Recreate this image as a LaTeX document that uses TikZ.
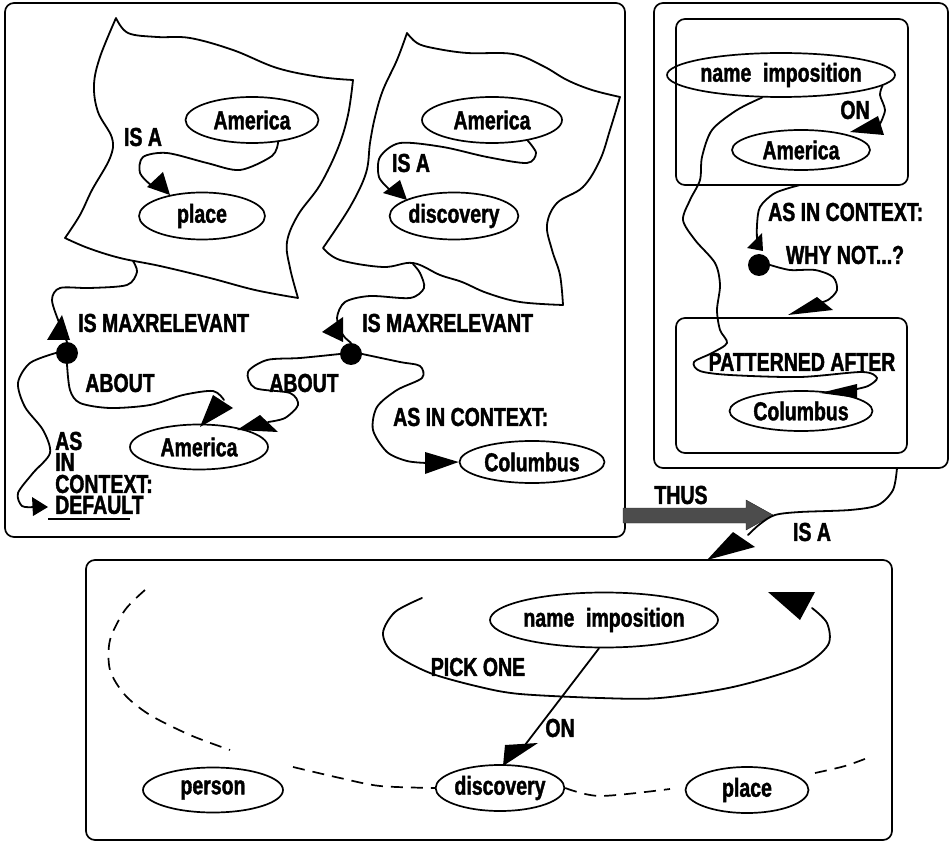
\documentclass[tikz,border=0pt]{standalone}
\usepackage{fontspec}
\setmainfont{Liberation Sans}[FakeStretch=0.75, BoldFeatures={FakeBold=1.5}]
\usepackage{graphicx}
\usetikzlibrary{shapes.geometric}
\begin{document}
\begin{tikzpicture}[x=1pt,y=-1pt,
  txt/.style={font=\fontsize{26}{26}\selectfont\bfseries, inner sep=0pt},
  ell/.style={draw, ellipse, line width=1.7pt, inner sep=0pt, font=\fontsize{26}{26}\selectfont\bfseries},
  wire/.style={line width=1.8pt, line join=round, line cap=round},
  frame/.style={draw, line width=1.7pt, rounded corners=9pt},
  dot/.style={circle, fill, inner sep=0pt, minimum size=22pt},
  head/.style={fill, line join=round},
  dashline/.style={line width=1.7pt, dash pattern=on 12pt off 8pt}
]
\useasboundingbox (0,0) rectangle (951,842);

% frames
\draw[frame] (5,3) rectangle (625,537);
\draw[frame] (654,3) rectangle (948,468);
\draw[frame] (676,19) rectangle (908,185);
\draw[frame] (676,318) rectangle (907,453);
\draw[frame] (86,560) rectangle (892,840);

% blob 1
\draw[wire] plot[smooth, tension=0.6] coordinates {(116,18)(128,33)(157,37)(190,38)(233,50)(277,68)(320,77)(353,80)}
  -- plot[smooth, tension=0.6] coordinates {(353,80)(348,115)(338,148)(320,185)(298,215)(287,242)(290,268)(298,298)}
  -- plot[smooth, tension=0.6] coordinates {(298,298)(255,290)(210,278)(160,266)(120,258)(88,248)(65,238)}
  -- plot[smooth, tension=0.6] coordinates {(65,238)(80,215)(92,190)(110,158)(112,138)(98,112)(94,85)(100,57)(116,18)} -- cycle;
% blob 2
\draw[wire] plot[smooth, tension=0.6] coordinates {(407,33)(417,43)(433,48)(467,53)(513,54)(543,66)(567,80)(592,90)(620,97)}
  -- plot[smooth, tension=0.6] coordinates {(620,97)(610,130)(600,160)(583,187)(557,203)(547,225)(552,250)(560,275)(563,305)}
  -- plot[smooth, tension=0.6] coordinates {(563,305)(520,302)(487,293)(462,282)(440,275)(413,263)(383,267)(340,260)(323,248)}
  -- plot[smooth, tension=0.6] coordinates {(323,248)(350,207)(366,173)(370,143)(375,117)(383,90)(397,60)(407,33)} -- cycle;

% nodes
\node[ell, minimum width=133pt, minimum height=46pt] (AmA) at (252,120) {America};
\node[ell, minimum width=126pt, minimum height=47pt] (place1) at (202,216) {place};
\node[ell, minimum width=140pt, minimum height=46pt] (AmB) at (492,120) {America};
\node[ell, minimum width=122pt, minimum height=47pt] (disc1) at (454,216) {discovery};
\node[ell, minimum width=138pt, minimum height=45pt] (AmC) at (199,447) {America};
\node[ell, minimum width=145pt, minimum height=42pt] (Col1) at (532,462) {Columbus};
\node[ell, minimum width=187pt, minimum height=44pt] (NI1) at (781,75) {name\hspace{0.45em}imposition};
\node[ell, minimum width=138pt, minimum height=40pt] (AmD) at (801,150) {America};
\node[ell, minimum width=143pt, minimum height=40pt] (Col2) at (801,411) {Columbus};
\node[ell, minimum width=185pt, minimum height=55pt] (NI2) at (604,620) {name\hspace{0.45em}imposition};
\node[ell, minimum width=124pt, minimum height=46pt] (disc2) at (500,788) {discovery};
\node[ell, minimum width=140pt, minimum height=45pt] (person) at (213,790) {person};
\node[ell, minimum width=123pt, minimum height=46pt] (place2) at (747,790) {place};

\node[dot] (D1) at (67,353) {};
\node[dot] (D2) at (351,354) {};
\node[dot] (D3) at (759,265) {};

% labels
\node[txt] (isa1) at (143,137) {IS A};
\node[txt] (isa2) at (411,163) {IS A};
\node[txt, anchor=west] (mr1) at (78,323) {IS MAXRELEVANT};
\node[txt, anchor=west] (mr2) at (362,323) {IS MAXRELEVANT};
\node[txt] (ab1) at (120,383) {ABOUT};
\node[txt] (ab2) at (304,383) {ABOUT};
\node[txt, anchor=west] (dfa) at (55,441) {AS};
\node[txt, anchor=west] (dfb) at (55,462) {IN};
\node[txt, anchor=west] (dfc) at (55,484) {CONTEXT:};
\node[txt, anchor=west] (dfd) at (55,505) {DEFAULT};
\node[txt, anchor=west] (aic1) at (393,417) {AS IN CONTEXT:};
\node[txt, anchor=west] (aic2) at (768,212) {AS IN CONTEXT:};
\node[txt] (why) at (845,255) {WHY NOT...?};
\node[txt] (on1) at (855,110) {ON};
\node[txt] (pat) at (802,362) {PATTERNED AFTER};
\node[txt] (thus) at (681,495) {THUS};
\node[txt] (isa3) at (812,532) {IS A};
\node[txt] (pick) at (478,667) {PICK ONE};
\node[txt] (on2) at (560,728) {ON};

\draw[line width=1.7pt] (48,519) -- (130,519);

% connectors
\draw[wire] plot[smooth] coordinates {(AmA.-40)(272,156)(240,170)(207,163)(167,153)(143,157)(140,173)(152,186)(160,190)};
\fill[head] (147,187) -- (163,172) -- (170,195) -- cycle;

\draw[wire] plot[smooth] coordinates {(AmB.-30)(536,153)(527,163)(487,157)(443,147)(400,143)(380,157)(379,177)(390,190)};
\fill[head] (383,193) -- (400,180) -- (407,200) -- cycle;

\draw[wire] plot[smooth] coordinates {(D1.north)(60,325)(52,300)(60,288)(90,288)(127,285)(137,272)(133,261)};
\fill[head] (62,315) -- (47,340) -- (70,340) -- cycle;

\draw[wire] plot[smooth] coordinates {(D1.south)(70,390)(80,403)(110,408)(150,405)(183,395)(213,391)(224,400)};
\fill[head] (213,395) -- (233,408) -- (200,427) -- cycle;

\draw[wire] plot[smooth] coordinates {(D2.west)(300,358)(267,360)(248,372)(255,388)(290,393)(298,405)(285,418)(268,422)};
\fill[head] (237,430) -- (260,415) -- (278,432) -- cycle;

\draw[wire] plot[smooth] coordinates {(D1.west)(30,363)(18,383)(25,407)(43,430)(50,453)(33,473)(18,493)(22,506)(34,507)};
\fill[head] (32,497) -- (33,516) -- (48,507) -- cycle;

\draw[wire] plot[smooth] coordinates {(D2.north)(343,335)(337,318)(345,302)(370,296)(410,298)(424,288)(420,273)(413,264)};
\fill[head] (322,332) -- (343,317) -- (343,342) -- cycle;

\draw[wire] plot[smooth] coordinates {(D2.east)(400,362)(420,366)(422,378)(397,390)(377,407)(373,430)(387,452)(407,461)(427,463)};
\fill[head] (425,452) -- (425,474) -- (Col1.west) -- cycle;

\draw[wire] plot[smooth] coordinates {(NI1.-6)(880,95)(885,110)(880,124)};
\fill[head] (850,132) -- (878,116) -- (884,135) -- cycle;

\coordinate (b1s) at (800,185);
\draw[wire] plot[smooth] coordinates {(b1s)(775,193)(760,207)(757,225)(757,240)};
\fill[head] (747,248) -- (762,233) -- (763,251) -- cycle;

\draw[wire] plot[smooth] coordinates {(D3.east)(790,270)(815,270)(833,277)(837,290)(828,300)(815,304)};
\fill[head] (788,315) -- (817,297) -- (833,310) -- cycle;

\draw[wire] plot[smooth] coordinates {(NI1.-130)(737,110)(712,130)(702,157)(700,180)(690,200)(683,220)(695,240)(715,263)(720,285)(717,310)(720,330)(727,343)(712,353)(694,362)(700,371)(730,375)(800,377)(862,372)(877,378)(868,386)(852,390)};
\fill[head] (820,393) -- (857,384) -- (857,398) -- cycle;

\fill[black!70, draw=black!85] (623,508) -- (746,508) -- (746,500) -- (773,515) -- (746,530) -- (746,523) -- (623,523) -- cycle;

\coordinate (rbs) at (897,468);
\draw[wire] plot[smooth] coordinates {(rbs)(893,490)(878,505)(850,510)(800,512)(775,515)(760,524)(748,535)};
\fill[head] (707,560) -- (733,532) -- (755,547) -- cycle;

\draw[wire] (NI2.-100) -- (525,745);
\fill[head] (503,766) -- (505,745) -- (538,743) -- cycle;

\coordinate (pk) at (422,598);
\draw[wire] plot[smooth] coordinates {(pk)(395,612)(383,633)(393,653)(430,673)(480,687)(520,694)(600,698)(660,698)(733,687)(800,667)(828,645)(827,623)(812,608)};
\fill[head] (768,592) -- (815,592) -- (800,620) -- cycle;

% dashed choice curve
\coordinate (dsA) at (145,590);
\coordinate (dsB) at (293,767);
\coordinate (dsC) at (815,773);
\coordinate (dsD) at (870,757);
\coordinate (dsE) at (670,789);
\draw[dashline] plot[smooth] coordinates {(dsA)(125,610)(110,640)(110,670)(125,695)(150,715)(190,735)(230,750)};
\draw[dashline] plot[smooth] coordinates {(dsB)(340,778)(380,786)(disc2.west)};
\draw[dashline] plot[smooth] coordinates {(disc2.east)(600,796)(dsE)};
\draw[dashline] plot[smooth] coordinates {(dsC)(845,766)(dsD)};
\end{tikzpicture}
\end{document}
